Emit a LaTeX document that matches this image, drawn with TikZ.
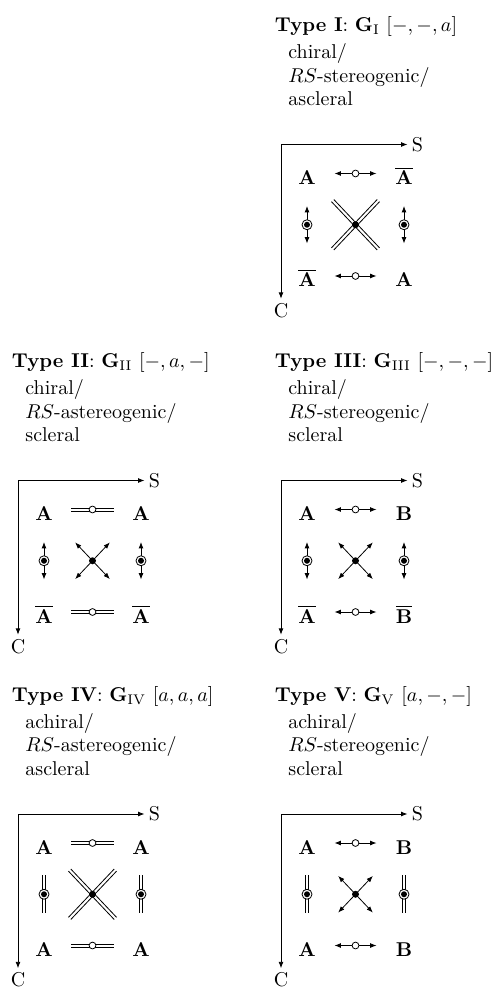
\documentclass[tikz,border=0pt]{standalone}
\usepackage{amsmath, amssymb}
\usepackage{tikz}
\usetikzlibrary{arrows.meta}

\begin{document}
\begin{tikzpicture}[x=0.5pt, y=-0.5pt, >={Latex[length=3.2pt, width=2.4pt]},
  head/.style={anchor=base west, inner sep=0pt},
  desc/.style={anchor=north west, align=left, inner sep=0pt, font={\linespread{0.98}\selectfont}},
  ax/.style={inner sep=2pt},
  lbl/.style={font=\bfseries, inner sep=0pt, minimum width=27pt, text height=11pt, text depth=0pt},
  hsingle/.style={<->},
  hdouble/.style={preaction={draw, transform canvas={yshift=0.8pt}},
    postaction={draw, transform canvas={yshift=-0.8pt}}},
  vsingle/.style={<->, shorten <=10.5pt, shorten >=10.5pt},
  vdouble/.style={preaction={draw, shorten <=10.5pt, shorten >=10.5pt, transform canvas={xshift=0.8pt}},
    postaction={draw, shorten <=10.5pt, shorten >=10.5pt, transform canvas={xshift=-0.8pt}}},
  xsingle/.style={<->, shorten <=14.8pt, shorten >=14.8pt},
  xdoublea/.style={preaction={draw, shorten <=10.8pt, shorten >=10.8pt, transform canvas={shift={(0.58pt,0.55pt)}}},
    postaction={draw, shorten <=10.8pt, shorten >=10.8pt, transform canvas={shift={(-0.58pt,-0.55pt)}}}},
  xdoubleb/.style={preaction={draw, shorten <=10.8pt, shorten >=10.8pt, transform canvas={shift={(0.58pt,-0.55pt)}}},
    postaction={draw, shorten <=10.8pt, shorten >=10.8pt, transform canvas={shift={(-0.58pt,0.55pt)}}}},
  hole/.style={circle, draw, fill=white, inner sep=0pt, minimum size=3.4pt},
  ring/.style={circle, draw, fill=white, inner sep=0pt, minimum size=5pt},
  dot/.style={circle, fill, inner sep=0pt, minimum size=3pt}]
  \useasboundingbox (0,0) rectangle (500,988);

  % Type I
  \begin{scope}[shift={(281,144.5)}]
    \node[head] (hI) at (-6.5,-113) {\textbf{Type I}: $\mathbf{G}_{\mathrm{I}}$ $[-,-,a]$};
    \node[desc] (dI) at (7,-101) {chiral/\\$RS$-stereogenic/\\ascleral};
    \node[ax] (sI) at (136.5,0) {S};
    \node[ax] (cI) at (0,166) {C};
    \draw[<->] (sI) -| (cI);
    \node[lbl] (tlI) at (26,29) {A};
    \node[lbl] (trI) at (123,29) {$\overline{\mathbf{A}}$};
    \node[lbl] (blI) at (26,131.5) {$\overline{\mathbf{A}}$};
    \node[lbl] (brI) at (123,131.5) {A};
    \draw[hsingle] (tlI) -- node[hole] (htI) {} (trI);
    \draw[hsingle] (blI) -- node[hole] (hbI) {} (brI);
    \draw[vsingle] (tlI) -- node[ring] (rlI) {} node[dot] (dlI) {} (blI);
    \draw[vsingle] (trI) -- node[ring] (rrI) {} node[dot] (drI) {} (brI);
    \path[xdoublea] (tlI) -- (brI);
    \path[xdoubleb] (trI) -- node[dot, minimum size=3.5pt] (xI) {} (blI);
  \end{scope}

  % Type II
  \begin{scope}[shift={(18,480.5)}]
    \node[head] (hII) at (-6.5,-113) {\textbf{Type II}: $\mathbf{G}_{\mathrm{II}}$ $[-,a,-]$};
    \node[desc] (dII) at (7,-101) {chiral/\\$RS$-astereogenic/\\scleral};
    \node[ax] (sII) at (136.5,0) {S};
    \node[ax] (cII) at (0,166) {C};
    \draw[<->] (sII) -| (cII);
    \node[lbl] (tlII) at (26,29) {A};
    \node[lbl] (trII) at (123,29) {A};
    \node[lbl] (blII) at (26,131.5) {$\overline{\mathbf{A}}$};
    \node[lbl] (brII) at (123,131.5) {$\overline{\mathbf{A}}$};
    \path[hdouble] (tlII) -- node[hole] (htII) {} (trII);
    \path[hdouble] (blII) -- node[hole] (hbII) {} (brII);
    \draw[vsingle] (tlII) -- node[ring] (rlII) {} node[dot] (dlII) {} (blII);
    \draw[vsingle] (trII) -- node[ring] (rrII) {} node[dot] (drII) {} (brII);
    \draw[xsingle] (tlII) -- (brII);
    \draw[xsingle] (trII) -- node[dot, minimum size=3.5pt] (xII) {} (blII);
  \end{scope}

  % Type III
  \begin{scope}[shift={(281,480.5)}]
    \node[head] (hIII) at (-6.5,-113) {\textbf{Type III}: $\mathbf{G}_{\mathrm{III}}$ $[-,-,-]$};
    \node[desc] (dIII) at (7,-101) {chiral/\\$RS$-stereogenic/\\scleral};
    \node[ax] (sIII) at (136.5,0) {S};
    \node[ax] (cIII) at (0,166) {C};
    \draw[<->] (sIII) -| (cIII);
    \node[lbl] (tlIII) at (26,29) {A};
    \node[lbl] (trIII) at (123,29) {B};
    \node[lbl] (blIII) at (26,131.5) {$\overline{\mathbf{A}}$};
    \node[lbl] (brIII) at (123,131.5) {$\overline{\mathbf{B}}$};
    \draw[hsingle] (tlIII) -- node[hole] (htIII) {} (trIII);
    \draw[hsingle] (blIII) -- node[hole] (hbIII) {} (brIII);
    \draw[vsingle] (tlIII) -- node[ring] (rlIII) {} node[dot] (dlIII) {} (blIII);
    \draw[vsingle] (trIII) -- node[ring] (rrIII) {} node[dot] (drIII) {} (brIII);
    \draw[xsingle] (tlIII) -- (brIII);
    \draw[xsingle] (trIII) -- node[dot, minimum size=3.5pt] (xIII) {} (blIII);
  \end{scope}

  % Type IV
  \begin{scope}[shift={(18,814)}]
    \node[head] (hIV) at (-6.5,-113) {\textbf{Type IV}: $\mathbf{G}_{\mathrm{IV}}$ $[a,a,a]$};
    \node[desc] (dIV) at (7,-101) {achiral/\\$RS$-astereogenic/\\ascleral};
    \node[ax] (sIV) at (136.5,0) {S};
    \node[ax] (cIV) at (0,166) {C};
    \draw[<->] (sIV) -| (cIV);
    \node[lbl] (tlIV) at (26,29) {A};
    \node[lbl] (trIV) at (123,29) {A};
    \node[lbl] (blIV) at (26,131.5) {A};
    \node[lbl] (brIV) at (123,131.5) {A};
    \path[hdouble] (tlIV) -- node[hole] (htIV) {} (trIV);
    \path[hdouble] (blIV) -- node[hole] (hbIV) {} (brIV);
    \path[vdouble] (tlIV) -- node[ring] (rlIV) {} node[dot] (dlIV) {} (blIV);
    \path[vdouble] (trIV) -- node[ring] (rrIV) {} node[dot] (drIV) {} (brIV);
    \path[xdoublea] (tlIV) -- (brIV);
    \path[xdoubleb] (trIV) -- node[dot, minimum size=3.5pt] (xIV) {} (blIV);
  \end{scope}

  % Type V
  \begin{scope}[shift={(281,814)}]
    \node[head] (hV) at (-6.5,-113) {\textbf{Type V}: $\mathbf{G}_{\mathrm{V}}$ $[a,-,-]$};
    \node[desc] (dV) at (7,-101) {achiral/\\$RS$-stereogenic/\\scleral};
    \node[ax] (sV) at (136.5,0) {S};
    \node[ax] (cV) at (0,166) {C};
    \draw[<->] (sV) -| (cV);
    \node[lbl] (tlV) at (26,29) {A};
    \node[lbl] (trV) at (123,29) {B};
    \node[lbl] (blV) at (26,131.5) {A};
    \node[lbl] (brV) at (123,131.5) {B};
    \draw[hsingle] (tlV) -- node[hole] (htV) {} (trV);
    \draw[hsingle] (blV) -- node[hole] (hbV) {} (brV);
    \path[vdouble] (tlV) -- node[ring] (rlV) {} node[dot] (dlV) {} (blV);
    \path[vdouble] (trV) -- node[ring] (rrV) {} node[dot] (drV) {} (brV);
    \draw[xsingle] (tlV) -- (brV);
    \draw[xsingle] (trV) -- node[dot, minimum size=3.5pt] (xV) {} (blV);
  \end{scope}
\end{tikzpicture}
\end{document}
